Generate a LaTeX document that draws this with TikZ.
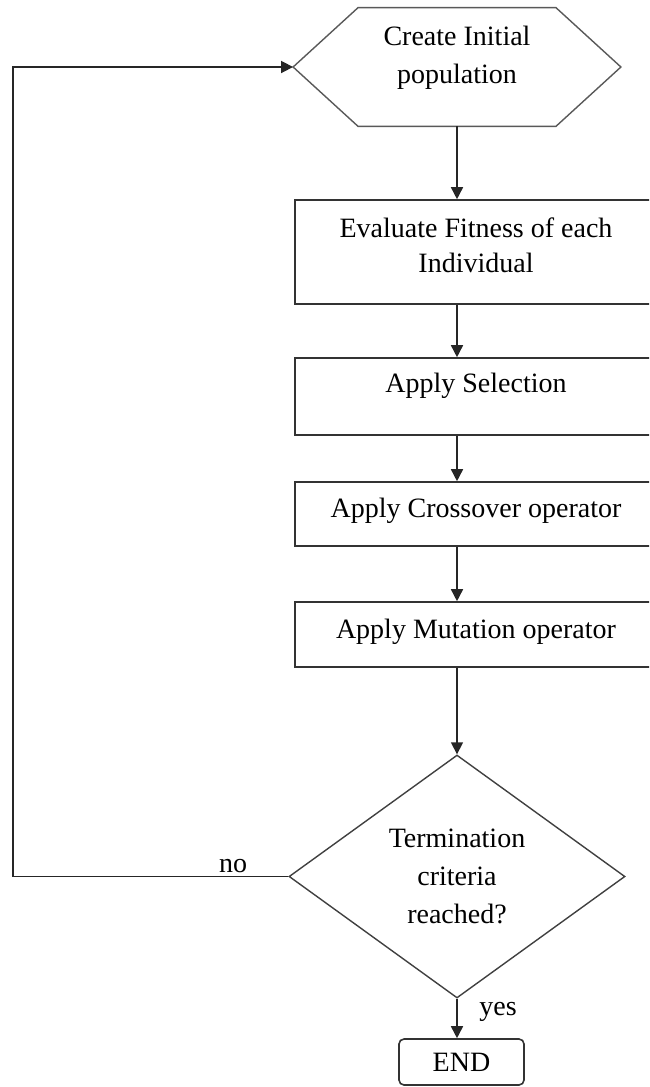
\documentclass[tikz,border=0pt]{standalone}
\usepackage{fontspec}
\setmainfont{Liberation Serif}
\usetikzlibrary{arrows.meta,shapes.geometric}
\tikzset{
	every node/.style={font=\fontsize{14}{19}\selectfont},
	stage/.style={rectangle,draw=black!80,line width=0.8pt,minimum width=181pt,inner sep=0pt},
	hexbox/.style={rectangle,draw=none,minimum width=163.5pt,minimum height=59pt,inner sep=0pt},
	decision/.style={diamond,draw=black!75,line width=0.7pt,minimum width=168pt,minimum height=121.5pt,inner sep=0pt,align=center},
	endbox/.style={rectangle,rounded corners=2.5pt,draw=black!80,line width=0.8pt,minimum width=62.5pt,minimum height=23pt},
	directed/.style={arrows={-Triangle[length=6pt,width=6pt]},draw=black!85,line width=0.8pt}
	}

\begin{document}
\begin{tikzpicture}[x=0.5pt,y=-0.5pt,
		txt/.style={align=center,inner sep=0pt},
		hexline/.style={draw=black!65,line width=0.7pt}]
		\useasboundingbox (0,0) rectangle (649,1087);
		\clip (0,0) rectangle (649,1087);
		\node[hexbox,label={[txt,yshift=4.75pt]center:Create Initial\\population}] (init) at (457,67) {};
		\draw[hexline] (init.west) -- ([xshift=32.5pt]init.north west) -- ([xshift=-32.5pt]init.north east) -- (init.east) -- ([xshift=-32.5pt]init.south east) -- ([xshift=32.5pt]init.south west) -- cycle;
		\node[stage,minimum height=52pt,label={[txt,yshift=3.5pt,font=\fontsize{14}{17.5}\selectfont]center:Evaluate Fitness of each\\Individual}] (eval) at (476,252) {};
		\node[stage,minimum height=38.5pt,label={[txt,yshift=5.5pt]center:Apply Selection}] (sel) at (476,396.5) {};
		\node[stage,minimum height=32pt,label={[txt,yshift=1.75pt]center:Apply Crossover operator}] (cross) at (476,514) {};
		\node[stage,minimum height=32.5pt,label={[txt,yshift=1.5pt]center:Apply Mutation operator}] (mut) at (476,634.5) {};
		\node[decision] (test) at (457,876.5) {Termination\\criteria\\reached?};
		\node[endbox] (finish) at (461.5,1062) {END};
		\coordinate (back) at (13,67);
		\node (no) at (233,866) {no};
		\node (yes) at (498,1012) {yes};
		\draw[directed] (init.south) -- (init.south |- eval.north);
		\draw[directed] (eval.south -| init) -- (sel.north -| init);
		\draw[directed] (sel.south -| init) -- (cross.north -| init);
		\draw[directed] (cross.south -| init) -- (mut.north -| init);
		\draw[directed] (mut.south -| init) -- (test.north);
		\draw[directed] (test.south) -- (test.south |- finish.north);
		\draw[directed] (test.west) -| (back) -- (init.west);
\end{tikzpicture}
\end{document}
